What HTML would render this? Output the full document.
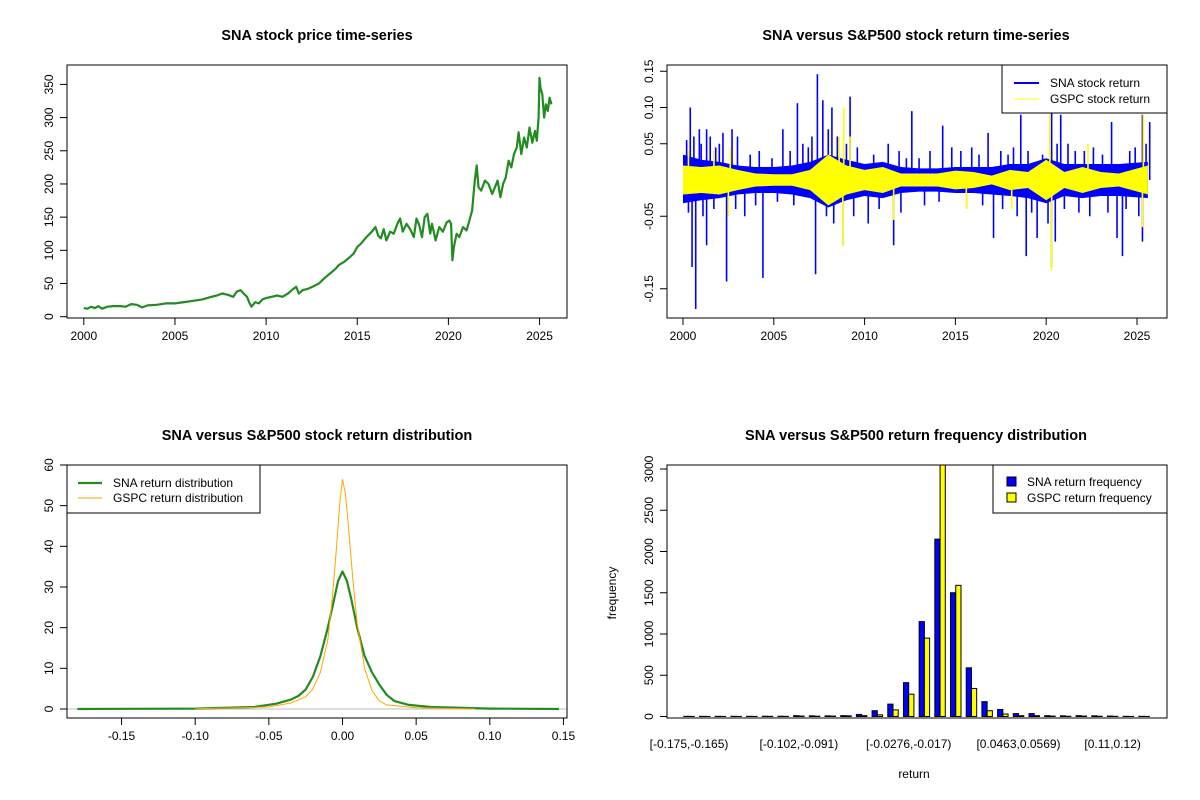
<!DOCTYPE html>
<html><head><meta charset="utf-8">
<style>
html,body{margin:0;padding:0;background:#fff;}
svg{display:block;font-family:"Liberation Sans",Arial,sans-serif;}
</style></head>
<body>
<svg id="c" width="1200" height="800" viewBox="0 0 1200 800" xmlns="http://www.w3.org/2000/svg"></svg>
<script>
// ---------- Panel 1: price ----------
const priceYears=[2000,2000.2,2000.4,2000.6,2000.8,2001,2001.3,2001.6,2002,2002.3,2002.6,2002.9,2003.2,2003.5,2004,2004.5,2005,2005.5,2006,2006.5,2007,2007.3,2007.6,2007.9,2008.2,2008.4,2008.6,2008.8,2008.95,2009.1,2009.2,2009.4,2009.6,2009.8,2010,2010.3,2010.6,2010.9,2011.2,2011.5,2011.65,2011.8,2012,2012.3,2012.6,2012.9,2013.2,2013.5,2013.8,2014,2014.3,2014.6,2014.8,2015,2015.2,2015.5,2015.8,2016,2016.15,2016.3,2016.45,2016.6,2016.8,2017,2017.2,2017.35,2017.5,2017.7,2017.9,2018.1,2018.25,2018.4,2018.55,2018.7,2018.85,2019,2019.1,2019.3,2019.5,2019.7,2019.9,2020.05,2020.15,2020.22,2020.3,2020.45,2020.6,2020.8,2021,2021.15,2021.3,2021.45,2021.55,2021.65,2021.8,2022,2022.2,2022.4,2022.55,2022.7,2022.85,2023,2023.15,2023.3,2023.45,2023.6,2023.75,2023.85,2024,2024.15,2024.3,2024.45,2024.6,2024.75,2024.85,2024.95,2025.0,2025.05,2025.15,2025.25,2025.35,2025.45,2025.55,2025.65];
const priceValues=[13,12,15,13,16,12,15,16,16,15,19,18,14,17,18,20,20,22,24,26,30,32,35,33,30,38,40,34,30,20,15,22,20,26,28,30,32,30,35,42,45,35,40,42,46,50,58,65,72,78,83,90,95,105,110,120,128,135,122,118,132,115,128,125,140,148,128,140,132,120,148,138,120,150,155,125,140,115,135,128,142,145,140,85,105,125,120,135,130,145,160,205,228,195,190,205,200,185,195,205,180,200,210,235,225,245,255,278,245,270,255,285,262,280,265,300,360,345,335,300,320,310,330,320];
const yearTicks=[2000,2005,2010,2015,2020,2025];
const priceTicks=[0,50,100,150,200,250,300,350];
// ---------- Panel 2: returns ----------
const bandYears=[2000,2001,2002,2003,2004,2005,2006,2007,2008,2009,2010,2011,2012,2013,2014,2015,2016,2017,2018,2019,2020,2021,2022,2023,2024,2025.6];
const snaBandHi=[0.035,0.028,0.025,0.02,0.018,0.018,0.02,0.025,0.035,0.028,0.022,0.025,0.018,0.016,0.016,0.018,0.018,0.018,0.022,0.022,0.03,0.022,0.022,0.022,0.022,0.025];
const snaBandLo=[-0.032,-0.028,-0.025,-0.02,-0.018,-0.018,-0.02,-0.025,-0.038,-0.028,-0.022,-0.025,-0.018,-0.016,-0.016,-0.018,-0.018,-0.02,-0.022,-0.025,-0.032,-0.022,-0.025,-0.022,-0.022,-0.025];
const gspcBand=[0.02,0.018,0.02,0.014,0.009,0.008,0.008,0.014,0.035,0.02,0.014,0.018,0.009,0.009,0.009,0.013,0.011,0.006,0.014,0.011,0.028,0.011,0.018,0.011,0.009,0.02];
const snaSpikeYears=[2000.4,2000.9,2001.3,2001.5,2002.2,2002.7,2003.0,2005.5,2006.3,2007.4,2007.7,2008.2,2009.2,2012.6,2014.3,2016.8,2018.6,2020.3,2020.8,2023.6,2025.3,2025.7,2000.7,2000.5,2001.3,2002.4,2003.4,2004.4,2007.3,2008.8,2010.2,2011.6,2017.1,2018.9,2019.5,2020.3,2020.5,2023.9,2024.2,2025.3,
 2000.2,2000.6,2001.0,2001.8,2002.0,2003.7,2004.2,2004.9,2005.9,2006.6,2006.9,2007.1,2008.0,2008.5,2009.0,2009.6,2010.5,2011.3,2011.9,2012.3,2013.0,2013.6,2014.8,2015.3,2015.9,2016.3,2017.5,2017.9,2018.2,2019.0,2019.8,2020.6,2021.2,2021.6,2022.1,2022.6,2023.1,2024.6,2024.9,2025.5,
 2000.3,2001.1,2001.7,2002.9,2004.0,2005.2,2006.1,2007.9,2008.3,2009.4,2010.8,2012.0,2013.3,2014.1,2015.6,2016.5,2017.6,2018.4,2019.2,2020.1,2021.0,2021.8,2022.4,2023.4,2024.4,2025.1];
const snaSpikeValues=[0.10,0.07,0.07,0.06,0.065,0.07,0.06,0.07,0.106,0.146,0.11,0.10,0.115,0.095,0.075,0.065,0.09,0.105,0.09,0.08,0.09,0.08,-0.178,-0.12,-0.09,-0.14,-0.05,-0.135,-0.13,-0.09,-0.06,-0.09,-0.08,-0.105,-0.08,-0.12,-0.085,-0.08,-0.105,-0.085,
 0.055,0.06,0.05,0.045,0.05,0.035,0.04,0.03,0.04,0.05,0.045,0.06,0.07,0.06,0.05,0.045,0.035,0.05,0.04,0.03,0.03,0.04,0.045,0.04,0.045,0.035,0.04,0.035,0.045,0.04,0.035,0.05,0.05,0.04,0.04,0.045,0.035,0.04,0.045,0.05,
 -0.045,-0.05,-0.04,-0.04,-0.035,-0.03,-0.035,-0.05,-0.06,-0.05,-0.04,-0.045,-0.035,-0.03,-0.04,-0.035,-0.04,-0.05,-0.045,-0.06,-0.04,-0.045,-0.05,-0.045,-0.04,-0.05];
const gspcSpikeYears=[2008.85,2008.8,2020.2,2020.3,2025.3,2025.35,2008.6,2002.5,2000.3,2001.7,2002.6,2009.2,2011.6,2015.6,2018.1,2022.3];
const gspcSpikeValues=[0.10,-0.09,0.09,-0.125,-0.065,0.09,0.06,-0.05,0.04,0.04,0.045,0.06,-0.055,-0.04,-0.04,0.05];
const retTicks=[0.15,0.10,0.05,-0.05,-0.15];
// ---------- Panel 3: density ----------
const snaDensX=[-0.18,-0.1,-0.06,-0.045,-0.035,-0.03,-0.025,-0.02,-0.015,-0.01,-0.006,-0.003,0,0.003,0.006,0.01,0.015,0.02,0.025,0.03,0.035,0.045,0.06,0.1,0.147];
const snaDensY=[0,0.1,0.5,1.3,2.3,3.2,4.8,8,13,20,26.5,31.5,33.8,31.5,27,20,13,9,6,3.5,2,1,0.5,0.1,0];
const gspcDensX=[-0.1,-0.05,-0.035,-0.025,-0.02,-0.015,-0.01,-0.007,-0.004,-0.002,0,0.002,0.004,0.007,0.01,0.015,0.02,0.025,0.03,0.05,0.09];
const gspcDensY=[0.05,0.5,1.5,3,5,9,17,27,40,50,56.5,53,45,32,21,10,4.5,2,1,0.3,0];
const densXTicks=[-0.15,-0.10,-0.05,0.00,0.05,0.10,0.15];
const densYTicks=[0,10,20,30,40,50,60];
// ---------- Panel 4: histogram ----------
const snaFreq=[2,2,2,2,2,3,3,10,8,8,10,25,70,150,410,1150,2150,1500,590,180,85,35,35,10,8,10,8,5,2,2];
const gspcFreq=[1,1,1,1,1,2,2,5,4,5,8,10,20,80,270,950,3400,1590,340,70,30,10,10,5,3,5,3,2,1,1];
const binLabels=["[-0.175,-0.165)","[-0.102,-0.091)","[-0.0276,-0.017)","[0.0463,0.0569)","[0.11,0.12)"];
const binLabelIdx=[0,7,14,21,27];
const freqTicks=[0,500,1000,1500,2000,2500,3000];

const svg=document.getElementById('c');
const NS='http://www.w3.org/2000/svg';
function el(tag,attrs,parent){const e=document.createElementNS(NS,tag);for(const k in attrs)e.setAttribute(k,attrs[k]);(parent||svg).appendChild(e);return e;}
function txt(s,x,y,attrs,parent){const t=el('text',Object.assign({x:x,y:y,'font-size':12,fill:'#000'},attrs||{}),parent);t.textContent=s;return t;}

function panel(name){const g=el('g',{});return g;}
function frame(g,x0,y0,x1,y1){const r=el('rect',{x:x0,y:y0,width:x1-x0,height:y1-y0,fill:'none',stroke:'#000','stroke-width':1},g);}
function xAxis(g,ticks,fx,labels,ybase){
  const a=el('g',{},g);
  el('line',{x1:fx(ticks[0]),x2:fx(ticks[ticks.length-1]),y1:ybase,y2:ybase,stroke:'#000'},a);
  ticks.forEach((t,i)=>{el('line',{x1:fx(t),x2:fx(t),y1:ybase,y2:ybase+7,stroke:'#000'},a);
    const l=txt(labels[i],fx(t),ybase+22,{'text-anchor':'middle'},a);});
}
function yAxis(g,ticks,fy,labels,xbase){
  const a=el('g',{},g);
  el('line',{x1:xbase,x2:xbase,y1:fy(ticks[0]),y2:fy(ticks[ticks.length-1]),stroke:'#000'},a);
  ticks.forEach((t,i)=>{el('line',{x1:xbase,x2:xbase-7,y1:fy(t),y2:fy(t),stroke:'#000'},a);
    const X=xbase-14,Y=fy(t);
    const l=txt(labels[i],X,Y,{'text-anchor':'middle',transform:`rotate(-90 ${X} ${Y})`},a);});
}
function title(g,s,x){const t=txt(s,x,40,{'text-anchor':'middle','font-weight':'bold','font-size':14.5},g);return t;}
function poly(g,xs,ys,fx,fy,attrs){const pts=xs.map((x,i)=>fx(x).toFixed(1)+','+fy(ys[i]).toFixed(1)).join(' ');return el('polyline',Object.assign({points:pts,fill:'none'},attrs),g);}

// Panel 1
{
const g=panel('price-panel');
const fx=y=>83.8+(y-2000)*18.23, fy=v=>316.7-v*0.6637;
title(g,'SNA stock price time-series',317);
const p=poly(g,priceYears,priceValues,fx,fy,{stroke:'#228B22','stroke-width':2.2,'stroke-linejoin':'round'});

frame(g,67,65,567,318);
xAxis(g,yearTicks,fx,yearTicks.map(String),318);
yAxis(g,priceTicks,fy,priceTicks.map(String),67);
}
// Panel 2
{
const g=panel('return-panel');
const fx=y=>683+(y-2000)*18.16, fy=v=>180-v*725;
title(g,'SNA versus S&P500 stock return time-series',916);
const snaPts=bandYears.map((y,i)=>fx(y)+','+fy(snaBandHi[i])).concat(bandYears.slice().reverse().map((y,j)=>{const i=bandYears.length-1-j;return fx(y)+','+fy(snaBandLo[i]);})).join(' ');
const sb=el('polygon',{points:snaPts,fill:'#0000FF'},g);
snaSpikeYears.forEach((y,i)=>{const l=el('line',{x1:fx(y),x2:fx(y),y1:fy(0),y2:fy(snaSpikeValues[i]),stroke:'#0000FF','stroke-width':1.6},g);
  });
const gPts=bandYears.map((y,i)=>fx(y)+','+fy(gspcBand[i])).concat(bandYears.slice().reverse().map((y,j)=>{const i=bandYears.length-1-j;return fx(y)+','+fy(-gspcBand[i]);})).join(' ');
const gb=el('polygon',{points:gPts,fill:'#FFFF00'},g);
gspcSpikeYears.forEach((y,i)=>{const l=el('line',{x1:fx(y),x2:fx(y),y1:fy(0),y2:fy(gspcSpikeValues[i]),stroke:'#FFFF00','stroke-width':1.6},g);
  });
frame(g,667,65,1167,318);
xAxis(g,yearTicks,fx,yearTicks.map(String),318);
yAxis(g,retTicks.slice().sort((a,b)=>a-b),fy,retTicks.slice().sort((a,b)=>a-b).map(v=>v.toFixed(2)),667);
const lg=el('g',{},g);
el('rect',{x:1002,y:65,width:165,height:48,fill:'#fff',stroke:'#000'},lg);
el('line',{x1:1014,x2:1039,y1:83,y2:83,stroke:'#0000FF','stroke-width':2},lg);
el('line',{x1:1014,x2:1039,y1:99,y2:99,stroke:'#FFFF00','stroke-width':1},lg);
const e1=txt('SNA stock return',1050,87,{},lg);
const e2=txt('GSPC stock return',1050,103,{},lg);
}
// Panel 3
{
const g=panel('density-panel');
const fx=v=>342.5+v*1473, fy=v=>709-v*4.067;
title(g,'SNA versus S&P500 stock return distribution',317).setAttribute('y',440);
const z=el('line',{x1:67,x2:567,y1:fy(0),y2:fy(0),stroke:'#bebebe'},g);
const s=poly(g,snaDensX,snaDensY,fx,fy,{stroke:'#228B22','stroke-width':2.2,'stroke-linejoin':'round'});
const o=poly(g,gspcDensX,gspcDensY,fx,fy,{stroke:'#FFA500','stroke-width':1});
frame(g,67,465,567,718);
xAxis(g,densXTicks,fx,densXTicks.map(v=>v.toFixed(2)),718);
yAxis(g,densYTicks,fy,densYTicks.map(String),67);
const lg=el('g',{},g);
el('rect',{x:67,y:465,width:193,height:48,fill:'#fff',stroke:'#000'},lg);
el('line',{x1:78,x2:102,y1:483,y2:483,stroke:'#228B22','stroke-width':2.2},lg);
el('line',{x1:78,x2:102,y1:498,y2:498,stroke:'#FFA500','stroke-width':1},lg);
const e1=txt('SNA return distribution',113,487,{},lg);
const e2=txt('GSPC return distribution',113,502,{},lg);
}
// Panel 4
{
const g=panel('histogram-panel');
const unit=5.23, gx=k=>683.8+k*3*unit, fy=v=>716.5-v*(247.5/3000);
title(g,'SNA versus S&P500 return frequency distribution',916).setAttribute('y',440);
snaFreq.forEach((v,k)=>{const r=el('rect',{x:gx(k),y:Math.max(465,fy(v)),width:unit,height:fy(0)-Math.max(465,fy(v)),fill:'#0000FF',stroke:'#000','stroke-width':1},g);
  });
gspcFreq.forEach((v,k)=>{const r=el('rect',{x:gx(k)+unit,y:Math.max(465,fy(v)),width:unit,height:fy(0)-Math.max(465,fy(v)),fill:'#FFFF00',stroke:'#000','stroke-width':1},g);
  });
frame(g,667,465,1167,718);
binLabelIdx.forEach((k,i)=>{const l=txt(binLabels[i],gx(k)+unit,748,{'text-anchor':'middle'},g);});
yAxis(g,freqTicks,fy,freqTicks.map(String),667);
const xl=txt('return',914,778,{'text-anchor':'middle'},g);
const yl=txt('frequency',616,593,{'text-anchor':'middle',transform:'rotate(-90 616 593)'},g);
const lg=el('g',{},g);
el('rect',{x:993,y:465,width:174,height:48,fill:'#fff',stroke:'#000'},lg);
el('rect',{x:1007,y:477,width:9,height:9,fill:'#0000FF',stroke:'#000'},lg);
el('rect',{x:1007,y:493,width:9,height:9,fill:'#FFFF00',stroke:'#000'},lg);
const e1=txt('SNA return frequency',1027,486,{},lg);
const e2=txt('GSPC return frequency',1027,502,{},lg);
}
</script>
</body></html>
